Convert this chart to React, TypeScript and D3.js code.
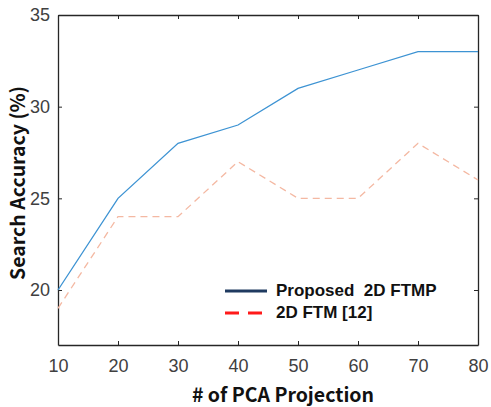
import React, { useRef, useEffect } from "react";
import * as d3 from "d3";

const projections = [10, 20, 30, 40, 50, 60, 70, 80];
const proposedFtmp = [20, 25, 28, 29, 31, 32, 33, 33];
const ftm12 = [19, 24, 24, 27, 25, 25, 28, 26];
const yTicks = [20, 25, 30, 35];
const legendLabels = ["Proposed  2D FTMP", "2D FTM [12]"];

const App = () => {
	const chartRef = useRef<SVGSVGElement>(null);

	useEffect(() => {
		const width = 491;
		const height = 407;
		const margin = { top: 15, right: 13, bottom: 62, left: 58 };

		const svg = d3.select(chartRef.current);
		svg.selectAll("*").remove();
		svg.attr("width", width).attr("height", height);

		const x = d3.scaleLinear().domain([10, 80]).range([margin.left, width - margin.right]);
		const y = d3.scaleLinear().domain([17, 35]).range([height - margin.bottom, margin.top]);

		const tickFont = "'Liberation Sans', Arial, sans-serif";
		const labelFont = "'Noto Sans CJK KR', 'Noto Sans', sans-serif";

		// box axes, MATLAB style (ticks inside)
		const styleAxis = (g: any) => {
			g.select(".domain").attr("stroke", "#262626").attr("stroke-width", 1.3);
			g.selectAll(".tick line").attr("stroke", "#262626");
			g.selectAll(".tick text").attr("fill", "#404040").attr("font-family", tickFont).attr("font-size", 18);
		};

		svg.append("g")
			.attr("transform", `translate(0,${y(17)})`)
			.call(d3.axisBottom(x).tickValues(projections).tickSizeInner(-4).tickSizeOuter(0).tickPadding(14).tickFormat(d3.format("d")))
			.call(styleAxis);
		svg.append("g")
			.attr("transform", `translate(0,${y(35)})`)
			.call(d3.axisTop(x).tickValues(projections).tickSizeInner(-4).tickSizeOuter(0).tickFormat(() => ""))
			.call(styleAxis);
		svg.append("g")
			.attr("transform", `translate(${x(10)},0)`)
			.call(d3.axisLeft(y).tickValues(yTicks).tickSizeInner(-4).tickSizeOuter(0).tickPadding(8))
			.call(styleAxis);
		svg.append("g")
			.attr("transform", `translate(${x(80)},0)`)
			.call(d3.axisRight(y).tickValues(yTicks).tickSizeInner(-4).tickSizeOuter(0).tickFormat(() => ""))
			.call(styleAxis);

		const line = d3.line<number>()
			.x((d, i) => x(projections[i]))
			.y(d => y(d));

		svg.append("path")
			.datum(ftm12)
			.attr("d", line)
			.attr("fill", "none")
			.attr("stroke", "#f4b8a2")
			.attr("stroke-width", 1.3)
			.attr("stroke-dasharray", "7,5");

		svg.append("path")
			.datum(proposedFtmp)
			.attr("d", line)
			.attr("fill", "none")
			.attr("stroke", "#3d93d3")
			.attr("stroke-width", 1.3);

		// legend
		const legendColors = ["#1f3a60", "#ff1a1a"];
		const legendDash = [null, "14,9"];
		legendLabels.forEach((label, i) => {
			const ly = 291 + i * 22;
			svg.append("line")
				.attr("x1", 225).attr("x2", 267)
				.attr("y1", ly).attr("y2", ly)
				.attr("stroke", legendColors[i])
				.attr("stroke-width", 3)
				.attr("stroke-dasharray", legendDash[i]);
			svg.append("text")
				.attr("x", 276).attr("y", ly + 5)
				.attr("font-family", tickFont)
				.attr("font-weight", "bold")
				.attr("font-size", 17)
				.attr("fill", "#111")
				.style("white-space", "pre")
				.text(label);
		});

		// axis labels
		svg.append("text")
			.attr("x", 283)
			.attr("y", 402)
			.attr("text-anchor", "middle")
			.attr("font-family", labelFont)
			.attr("font-weight", "bold")
			.attr("font-size", 19.5)
			.attr("fill", "#111")
			.text("# of PCA Projection");

		svg.append("text")
			.attr("transform", `translate(25,183) rotate(-90)`)
			.attr("text-anchor", "middle")
			.attr("font-family", labelFont)
			.attr("font-weight", "bold")
			.attr("font-size", 19.5)
			.attr("fill", "#111")
			.text("Search Accuracy (%)");
	}, []);

	return (
		<div style={{ position: "absolute", left: 0, top: 0, width: 491, height: 407, background: "#fff" }}>
			<svg ref={chartRef}></svg>
		</div>
	);
};

export default App;
